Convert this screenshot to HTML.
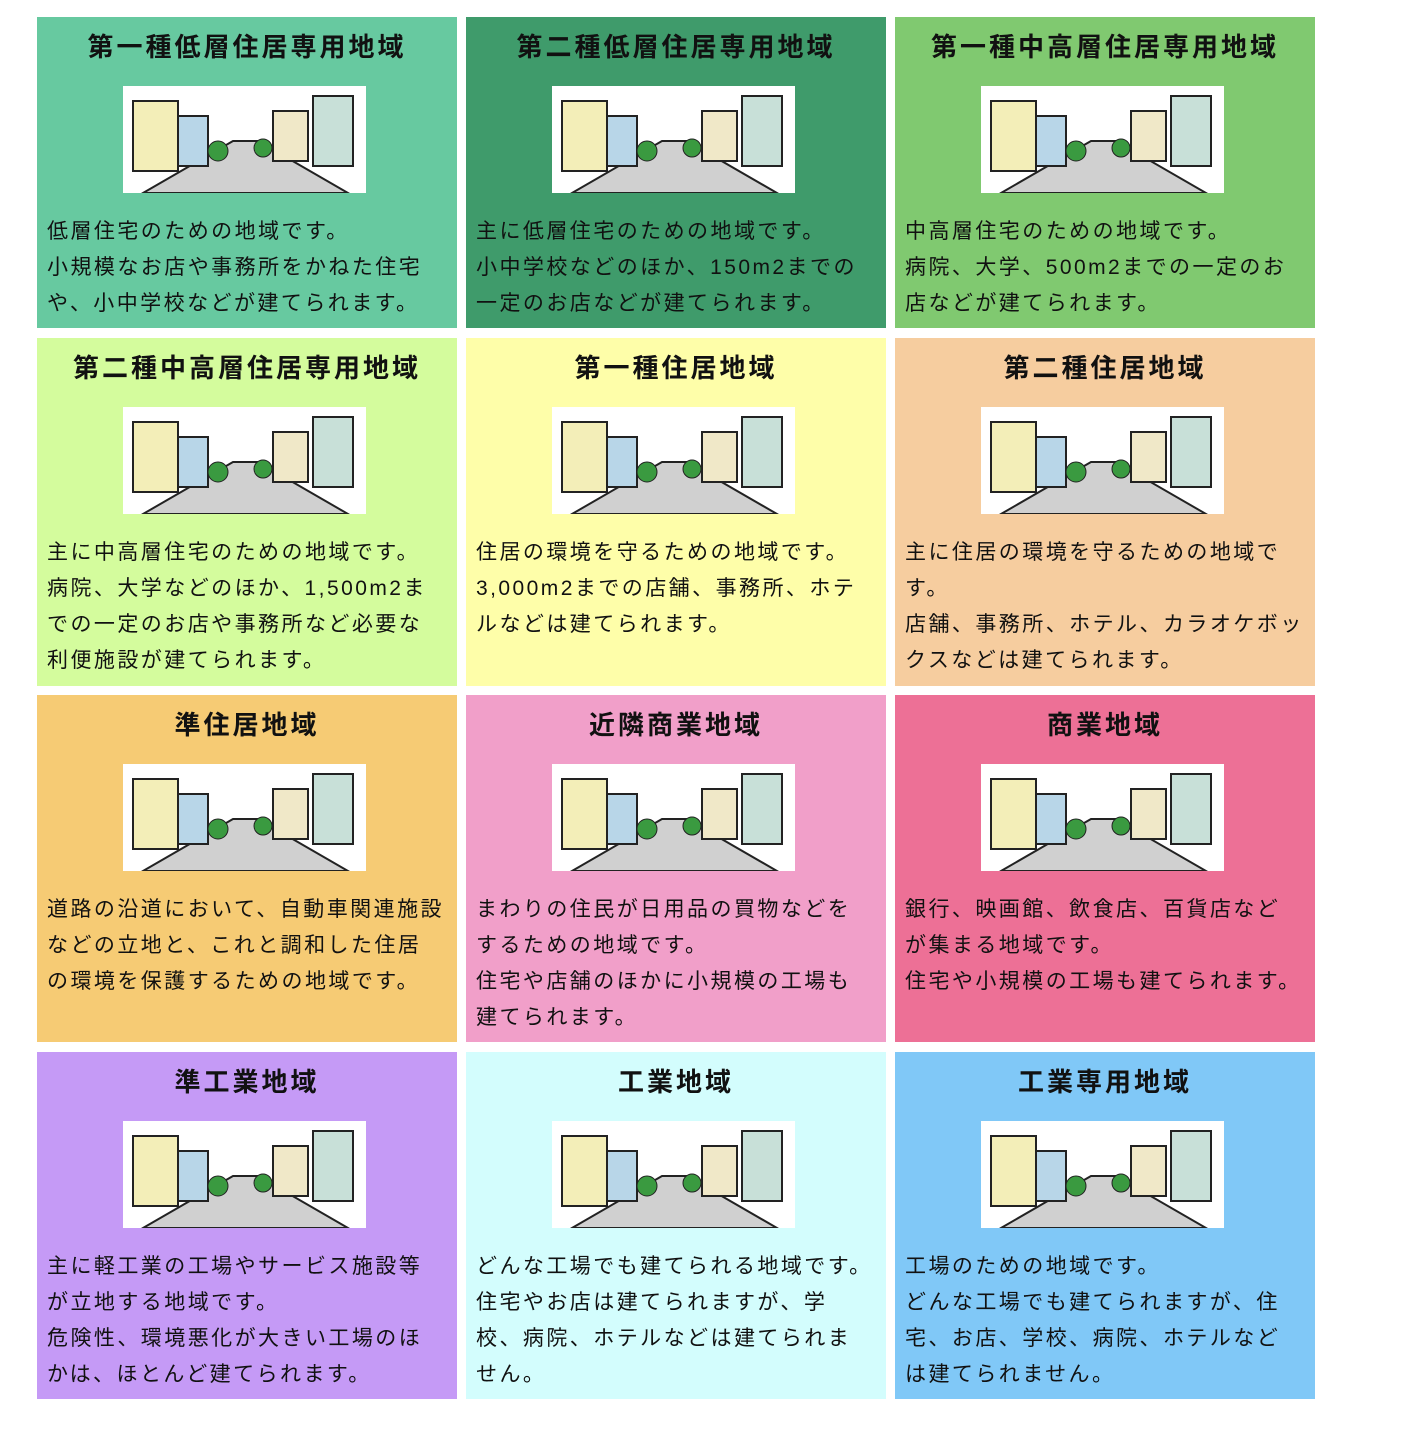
<!DOCTYPE html>
<html><head><meta charset="utf-8">
<style>
html,body{margin:0;padding:0;background:#fff;}
body{width:1402px;height:1454px;position:relative;overflow:hidden;font-family:"Liberation Sans","Noto Sans CJK JP",sans-serif;}
.c{position:absolute;width:420px;}
.t{position:absolute;left:0;width:420px;top:12px;text-align:center;font-size:26px;font-weight:bold;letter-spacing:3px;color:#111;line-height:36px;white-space:nowrap;}
.i{position:absolute;left:86px;top:69px;width:243px;height:107px;background:#fff;}
.d{position:absolute;left:10px;top:197px;font-size:21px;letter-spacing:2.45px;line-height:36px;color:#111;white-space:nowrap;}
</style></head><body>
<svg width="0" height="0" style="position:absolute">
<defs>
<g id="st">
<rect width="243" height="107" fill="#fff"/>
<polygon points="20,107 110,55 135,55 225,107" fill="#d0d0d0" stroke="#222" stroke-width="2"/>
<rect x="10" y="15" width="45" height="70" fill="#f3eeb8" stroke="#222" stroke-width="2"/>
<rect x="55" y="30" width="30" height="50" fill="#b8d6e8" stroke="#222" stroke-width="2"/>
<rect x="150" y="25" width="35" height="50" fill="#f0e8c8" stroke="#222" stroke-width="2"/>
<rect x="190" y="10" width="40" height="70" fill="#c8e0d8" stroke="#222" stroke-width="2"/>
<circle cx="95" cy="65" r="10" fill="#3a9a40" stroke="#222"/>
<circle cx="140" cy="62" r="9" fill="#3a9a40" stroke="#222"/>
</g>
</defs></svg>

<div class="c" style="left:37px;top:17px;height:311px;background:#67c9a0"><div class="t">第一種低層住居専用地域</div><svg class="i"><use href="#st"/></svg><div class="d">低層住宅のための地域です。<br>小規模なお店や事務所をかねた住宅<br>や、小中学校などが建てられます。</div></div>
<div class="c" style="left:466px;top:17px;height:311px;background:#3f9b6b"><div class="t">第二種低層住居専用地域</div><svg class="i"><use href="#st"/></svg><div class="d">主に低層住宅のための地域です。<br>小中学校などのほか、150m2までの<br>一定のお店などが建てられます。</div></div>
<div class="c" style="left:895px;top:17px;height:311px;background:#80c970"><div class="t">第一種中高層住居専用地域</div><svg class="i"><use href="#st"/></svg><div class="d">中高層住宅のための地域です。<br>病院、大学、500m2までの一定のお<br>店などが建てられます。</div></div>

<div class="c" style="left:37px;top:338px;height:348px;background:#d4fc9d"><div class="t">第二種中高層住居専用地域</div><svg class="i"><use href="#st"/></svg><div class="d">主に中高層住宅のための地域です。<br>病院、大学などのほか、1,500m2ま<br>での一定のお店や事務所など必要な<br>利便施設が建てられます。</div></div>
<div class="c" style="left:466px;top:338px;height:348px;background:#fefea9"><div class="t">第一種住居地域</div><svg class="i"><use href="#st"/></svg><div class="d">住居の環境を守るための地域です。<br>3,000m2までの店舗、事務所、ホテ<br>ルなどは建てられます。</div></div>
<div class="c" style="left:895px;top:338px;height:348px;background:#f6cd9f"><div class="t">第二種住居地域</div><svg class="i"><use href="#st"/></svg><div class="d">主に住居の環境を守るための地域で<br>す。<br>店舗、事務所、ホテル、カラオケボッ<br>クスなどは建てられます。</div></div>

<div class="c" style="left:37px;top:695px;height:347px;background:#f6cb74"><div class="t">準住居地域</div><svg class="i"><use href="#st"/></svg><div class="d">道路の沿道において、自動車関連施設<br>などの立地と、これと調和した住居<br>の環境を保護するための地域です。</div></div>
<div class="c" style="left:466px;top:695px;height:347px;background:#f19fc9"><div class="t">近隣商業地域</div><svg class="i"><use href="#st"/></svg><div class="d">まわりの住民が日用品の買物などを<br>するための地域です。<br>住宅や店舗のほかに小規模の工場も<br>建てられます。</div></div>
<div class="c" style="left:895px;top:695px;height:347px;background:#ed7096"><div class="t">商業地域</div><svg class="i"><use href="#st"/></svg><div class="d">銀行、映画館、飲食店、百貨店など<br>が集まる地域です。<br>住宅や小規模の工場も建てられます。</div></div>

<div class="c" style="left:37px;top:1052px;height:347px;background:#c59af6"><div class="t">準工業地域</div><svg class="i"><use href="#st"/></svg><div class="d">主に軽工業の工場やサービス施設等<br>が立地する地域です。<br>危険性、環境悪化が大きい工場のほ<br>かは、ほとんど建てられます。</div></div>
<div class="c" style="left:466px;top:1052px;height:347px;background:#d3fdfd"><div class="t">工業地域</div><svg class="i"><use href="#st"/></svg><div class="d">どんな工場でも建てられる地域です。<br>住宅やお店は建てられますが、学<br>校、病院、ホテルなどは建てられま<br>せん。</div></div>
<div class="c" style="left:895px;top:1052px;height:347px;background:#80c8f7"><div class="t">工業専用地域</div><svg class="i"><use href="#st"/></svg><div class="d">工場のための地域です。<br>どんな工場でも建てられますが、住<br>宅、お店、学校、病院、ホテルなど<br>は建てられません。</div></div>
</body></html>
